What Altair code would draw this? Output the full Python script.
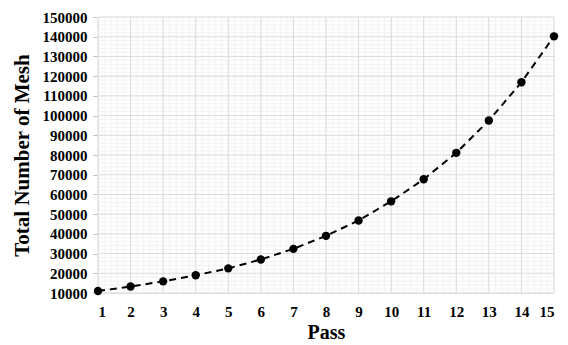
import altair as alt
import pandas as pd
import numpy as np

passes = list(range(1, 16))
mesh = [11000, 13300, 15900, 19000, 22500, 27000, 32400, 39000, 46800,
        56500, 67700, 81100, 97500, 116900, 140200]

x_major = list(range(1, 16))
y_major = list(range(10000, 150001, 10000))
x_minor = [round(v, 1) for v in np.arange(1, 15.0001, 0.2)]
y_minor = list(range(10000, 150001, 2000))

df = pd.DataFrame({"Pass": passes, "Mesh": mesh})

xs = alt.Scale(domain=[1, 15], nice=False, zero=False)
ys = alt.Scale(domain=[10000, 150000], nice=False, zero=False)

font = "Liberation Serif"

x_axis = alt.Axis(values=x_major, title="Pass", grid=False, format="d",
                  labelFont=font, labelFontSize=15, labelFontWeight="bold",
                  labelColor="black", titleFont=font, titleFontSize=20,
                  titleFontWeight="bold", titleColor="black",
                  domainColor="#d9d9d9", ticks=False, labelPadding=11,
                  titlePadding=3)
y_axis = alt.Axis(values=y_major, title="Total Number of Mesh", grid=False,
                  format="d", labelFont=font, labelFontSize=15,
                  labelFontWeight="bold", labelColor="black",
                  titleFont=font, titleFontSize=21, titleFontWeight="bold",
                  titleColor="black", domainColor="#d9d9d9",
                  tickColor="#bfbfbf", tickSize=5, labelPadding=6,
                  titlePadding=10)

minor_v = alt.Chart(pd.DataFrame({"x": x_minor})).mark_rule(
    color="#f2f2f2", strokeWidth=1).encode(x=alt.X("x:Q", scale=xs, axis=x_axis))
minor_h = alt.Chart(pd.DataFrame({"y": y_minor})).mark_rule(
    color="#f2f2f2", strokeWidth=1).encode(y=alt.Y("y:Q", scale=ys, axis=y_axis))
major_v = alt.Chart(pd.DataFrame({"x": x_major})).mark_rule(
    color="#dcdcdc", strokeWidth=1).encode(x=alt.X("x:Q", scale=xs, axis=x_axis))
major_h = alt.Chart(pd.DataFrame({"y": y_major})).mark_rule(
    color="#dcdcdc", strokeWidth=1).encode(y=alt.Y("y:Q", scale=ys, axis=y_axis))

base = alt.Chart(df).encode(
    x=alt.X("Pass:Q", scale=xs, axis=x_axis),
    y=alt.Y("Mesh:Q", scale=ys, axis=y_axis),
)

line = base.mark_line(color="black", strokeWidth=2, strokeDash=[7, 5])
pts = base.mark_circle(color="black", size=70, opacity=1)

chart = alt.layer(minor_v, minor_h, major_v, major_h, line, pts).properties(
    width=456, height=276,
    autosize=alt.AutoSizeParams(type="none"),
    padding={"left": 90, "top": 9, "right": 6, "bottom": 50},
    background="white",
).configure_view(stroke=None)

chart.save("out.html", embed_options={"renderer": "svg", "actions": False})
